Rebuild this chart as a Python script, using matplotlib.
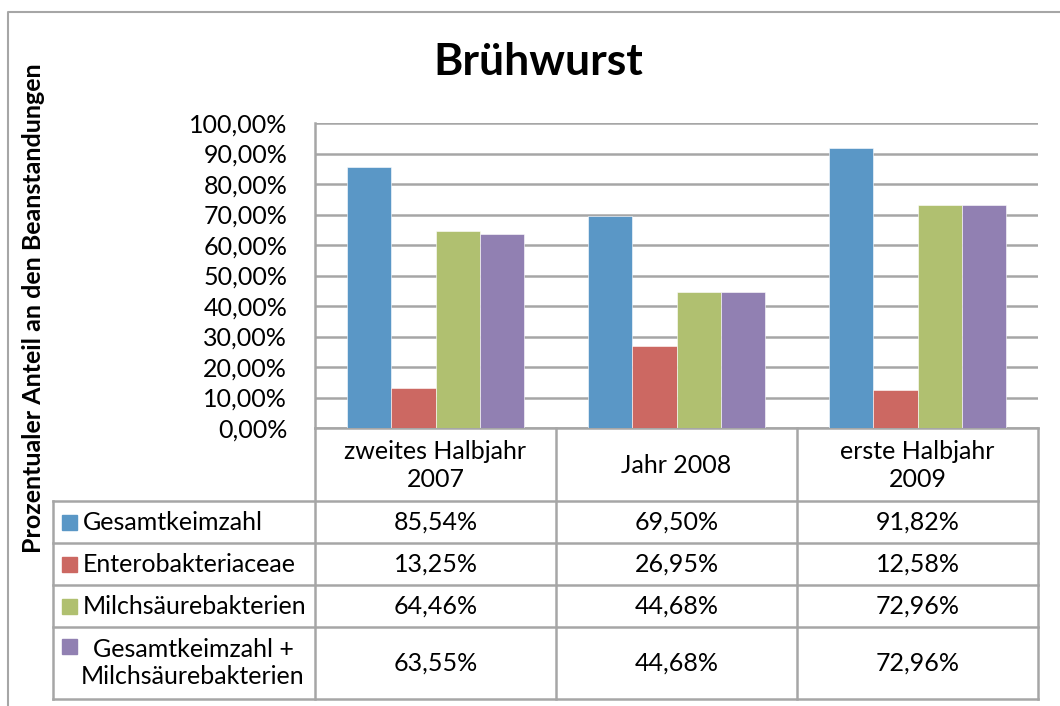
import matplotlib
matplotlib.use("Agg")
import matplotlib.pyplot as plt
from matplotlib.patches import Rectangle
import numpy as np

plt.rcParams['font.family'] = ['Lato', 'DejaVu Sans']

title = "Brühwurst"
ylabel = "Prozentualer Anteil an den Beanstandungen"
categories = ["zweites Halbjahr\n2007", "Jahr 2008", "erste Halbjahr\n2009"]
series_names = ["Gesamtkeimzahl", "Enterobakteriaceae", "Milchsäurebakterien",
                "Gesamtkeimzahl +\nMilchsäurebakterien"]
gesamtkeimzahl = [85.54, 69.50, 91.82]
enterobakteriaceae = [13.25, 26.95, 12.58]
milchsaeurebakterien = [64.46, 44.68, 72.96]
gesamt_plus_milch = [63.55, 44.68, 72.96]
yticks = [0, 10, 20, 30, 40, 50, 60, 70, 80, 90, 100]

series = [gesamtkeimzahl, enterobakteriaceae, milchsaeurebakterien, gesamt_plus_milch]
colors = ["#5A97C6", "#CC6862", "#B0C070", "#9180B2"]
grid_c = "#A6A6A6"

W, H = 1060, 706
fig = plt.figure(figsize=(W / 100, H / 100), dpi=100)

# overlay for frame/table in pixel coordinates
ov = fig.add_axes([0, 0, 1, 1])
ov.set_xlim(0, W)
ov.set_ylim(H, 0)
ov.axis('off')

# chart area border (left & top)
ov.plot([8, 8, W + 5], [H + 5, 12, 12], color=grid_c, lw=1.5)

# plot area
L, R, T, B = 315, 1038, 123, 428
ax = fig.add_axes([L / W, 1 - B / H, (R - L) / W, (B - T) / H])
n = len(categories)
x = np.arange(n)
bw = 0.183
for i, (vals, c) in enumerate(zip(series, colors)):
    ax.bar(x + (i - 1.5) * bw, vals, width=bw, color=c, edgecolor='white',
           linewidth=0.4, zorder=3)
ax.set_xlim(-0.5, n - 0.5)
ax.set_ylim(0, 100)
ax.set_yticks(yticks)
ax.set_yticklabels([f"{v:.2f}%".replace('.', ',') for v in yticks], fontsize=18)
ax.tick_params(axis='y', length=0, pad=20)
ax.set_xticks([])
ax.yaxis.grid(True, color=grid_c, lw=1.8, zorder=0)
for s in ['top', 'right', 'bottom']:
    ax.spines[s].set_visible(False)
ax.spines['left'].set_color(grid_c)
ax.spines['left'].set_linewidth(1.8)
ax.patch.set_alpha(0)

# title and y-label
fig.text(538 / W, 1 - 62 / H, title, fontsize=32, fontweight='bold',
         ha='center', va='center')
fig.text(34 / W, 1 - 308 / H, ylabel, fontsize=18, fontweight='bold',
         rotation=90, ha='center', va='center')

# data table
col_edges = [L + (R - L) * k / n for k in range(n + 1)]
row_edges = [428, 501, 543, 585, 627, 699]
lw = 1.8
# horizontals
ov.plot([L, R], [row_edges[0], row_edges[0]], color=grid_c, lw=lw)
for y in row_edges[1:]:
    ov.plot([53, R], [y, y], color=grid_c, lw=lw)
# verticals
for xe in col_edges:
    ov.plot([xe, xe], [row_edges[0], row_edges[-1]], color=grid_c, lw=lw)
ov.plot([53, 53], [row_edges[1], row_edges[-1]], color=grid_c, lw=lw)

fs = 18
for k, cat in enumerate(categories):
    cx = (col_edges[k] + col_edges[k + 1]) / 2
    ov.text(cx, (row_edges[0] + row_edges[1]) / 2 + 1, cat, fontsize=fs,
            ha='center', va='center', linespacing=1.25)

for r, (name, vals, c) in enumerate(zip(series_names, series, colors)):
    y0, y1 = row_edges[r + 1], row_edges[r + 2]
    cy = (y0 + y1) / 2
    if '\n' in name:
        ov.add_patch(Rectangle((62, 639), 15, 15, color=c))
        ov.text(193, cy, name, fontsize=fs, ha='center', va='center',
                linespacing=1.2)
    else:
        ov.add_patch(Rectangle((62, cy - 7.5), 15, 15, color=c))
        ov.text(83, cy, name, fontsize=fs, ha='left', va='center')
    for k, v in enumerate(vals):
        cx = (col_edges[k] + col_edges[k + 1]) / 2
        ov.text(cx, cy, f"{v:.2f}%".replace('.', ','), fontsize=fs,
                ha='center', va='center')

fig.savefig("out.png", dpi=100)
